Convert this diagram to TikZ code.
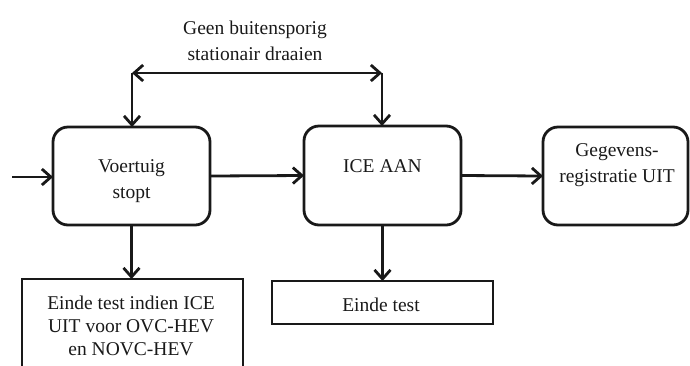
\documentclass[tikz,border=0pt]{standalone}
\usepackage{fontspec}
\setmainfont{Liberation Serif}
\usetikzlibrary{arrows.meta}
\begin{document}
\begin{tikzpicture}[x=1pt,y=-1pt,
  every node/.style={inner sep=0pt,outer sep=0pt},
  rbox/.style={draw=black!90,line width=2.8pt,rounded corners=15pt},
  sbox/.style={draw=black!90,line width=2.8pt},
  txt/.style={font=\fontsize{19.5}{26}\selectfont,align=center,text=black!90},
  tip/.tip={Straight Barb[length=9pt,width=16pt,line width=2.8pt]},
  conn/.style={draw=black!90,line width=2.8pt,-tip},
  conn2/.style={draw=black!90,line width=2.8pt,tip-tip}]
\useasboundingbox (0,0) rectangle (690,365);
% boxes
\node[rbox,minimum width=157pt,minimum height=98pt] (stop) at (131.5,176) {};
\node[rbox,minimum width=157pt,minimum height=99pt] (ice) at (382.5,175.5) {};
\node[rbox,minimum width=145pt,minimum height=98pt] (geg) at (615.5,176) {};
\node[sbox,minimum width=221pt,minimum height=93pt] (end1) at (132.5,325.5) {};
\node[sbox,minimum width=221pt,minimum height=43pt] (end2) at (382.5,302.5) {};
% texts
\node[txt] (tstop) at (131.5,181) {Voertuig\\stopt};
\node[txt] (tice) at (382.5,166) {ICE AAN};
\node[txt] (tgeg) at (617,165) {Gegevens-\\registratie UIT};
\node[txt,font=\fontsize{19.5}{23}\selectfont] (tend1) at (131,326) {Einde test indien ICE\\UIT voor OVC-HEV\\en NOVC-HEV};
\node[txt] (tend2) at (381,305) {Einde test};
\node[txt] (ttop) at (255,41) {Geen buitensporig\\stationair draaien};
% connectors
\coordinate (in) at (12,177);
\coordinate (tl) at (132,73);
\coordinate (tr) at (382,73);
\draw[conn] (in) -- (in -| stop.west);
\draw[conn] (stop.east) -- (ice.west);
\draw[conn] (ice.east) -- (geg.west);
\draw[conn] (stop.south) -- (end1.north -| stop.south);
\draw[conn] (ice.south) -- (end2.north -| ice.south);
\draw[conn2] (tl) -- (tr);
\draw[conn] (tl) -- (tl |- stop.north);
\draw[conn] (tr) -- (tr |- ice.north);
\end{tikzpicture}
\end{document}
